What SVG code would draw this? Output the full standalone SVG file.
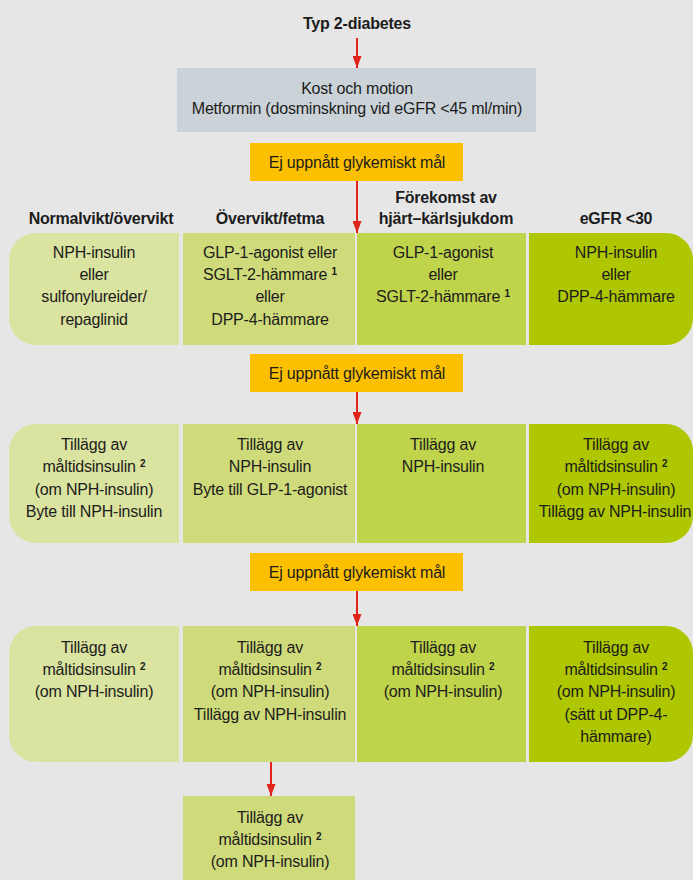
<svg xmlns="http://www.w3.org/2000/svg" width="693" height="880" viewBox="0 0 693 880">
<defs>
<style>
text{font-family:"Liberation Sans",Arial,sans-serif;font-size:16px;letter-spacing:-0.2px;fill:#1c1c1c;text-anchor:middle}
.b{font-weight:bold}
.sup{font-size:10px;font-weight:bold;letter-spacing:0}
.gray{fill:#cbd3d9}
.yel{fill:#fdc000}
.c1{fill:#dae39f}
.c2{fill:#cfdb7a}
.c3{fill:#bfd34b}
.c4{fill:#aec700}
.arr{stroke:#e0231b;stroke-width:2;fill:none;marker-end:url(#ah)}
</style>
<marker id="ah" viewBox="0 0 12 9" refX="12" refY="4.5" markerWidth="12" markerHeight="9" markerUnits="userSpaceOnUse" orient="auto">
<path d="M0,0 L12,4.5 L0,9 Z" fill="#e0231b"/>
</marker>
</defs>
<rect x="0" y="0" width="693" height="880" fill="#e6e6e6"/>

<g id="start">
<text class="b" x="357" y="29">Typ 2-diabetes</text>
</g>

<g id="base">
<rect class="gray" x="177" y="68" width="359" height="64"/>
<text x="357" y="94">Kost och motion</text>
<text x="357" y="114">Metformin (dosminskning vid eGFR &lt;45 ml/min)</text>
</g>

<g id="fail1">
<rect class="yel" x="250" y="143" width="213" height="38"/>
<text x="357" y="168">Ej uppnått glykemiskt mål</text>
</g>

<g id="headers">
<text class="b" x="101" y="224">Normalvikt/övervikt</text>
<text class="b" x="270" y="224">Övervikt/fetma</text>
<text class="b" x="446" y="203">Förekomst av</text>
<text class="b" x="446" y="224">hjärt–kärlsjukdom</text>
<text class="b" x="616" y="224">eGFR &lt;30</text>
</g>

<g id="r1c1">
<path class="c1" d="M179,233 V345 H36 A27,27 0 0 1 9,318 V260 A27,27 0 0 1 36,233 Z"/>
<text x="94" y="258">NPH-insulin</text>
<text x="94" y="280">eller</text>
<text x="94" y="302">sulfonylureider/</text>
<text x="94" y="325">repaglinid</text>
</g>
<g id="r1c2">
<rect class="c2" x="183" y="233" width="172" height="112"/>
<text x="270" y="258">GLP-1-agonist eller</text>
<text x="270" y="280">SGLT-2-hämmare <tspan class="sup" dy="-5">1</tspan></text>
<text x="270" y="302">eller</text>
<text x="270" y="325">DPP-4-hämmare</text>
</g>
<g id="r1c3">
<rect class="c3" x="357" y="233" width="169" height="112"/>
<text x="443" y="258">GLP-1-agonist</text>
<text x="443" y="280">eller</text>
<text x="443" y="302">SGLT-2-hämmare <tspan class="sup" dy="-5">1</tspan></text>
</g>
<g id="r1c4">
<path class="c4" d="M529,233 H666 A27,27 0 0 1 693,260 V318 A27,27 0 0 1 666,345 H529 Z"/>
<text x="616" y="258">NPH-insulin</text>
<text x="616" y="280">eller</text>
<text x="616" y="302">DPP-4-hämmare</text>
</g>

<g id="fail2">
<rect class="yel" x="250" y="354" width="213" height="38"/>
<text x="357" y="379">Ej uppnått glykemiskt mål</text>
</g>

<g id="r2c1">
<path class="c1" d="M179,424 V543 H36 A27,27 0 0 1 9,516 V451 A27,27 0 0 1 36,424 Z"/>
<text x="94" y="450">Tillägg av</text>
<text x="94" y="472">måltidsinsulin <tspan class="sup" dy="-5">2</tspan></text>
<text x="94" y="495">(om NPH-insulin)</text>
<text x="94" y="517">Byte till NPH-insulin</text>
</g>
<g id="r2c2">
<rect class="c2" x="183" y="424" width="172" height="119"/>
<text x="270" y="450">Tillägg av</text>
<text x="270" y="472">NPH-insulin</text>
<text x="270" y="495">Byte till GLP-1-agonist</text>
</g>
<g id="r2c3">
<rect class="c3" x="357" y="424" width="169" height="119"/>
<text x="443" y="450">Tillägg av</text>
<text x="443" y="472">NPH-insulin</text>
</g>
<g id="r2c4">
<path class="c4" d="M529,424 H666 A27,27 0 0 1 693,451 V516 A27,27 0 0 1 666,543 H529 Z"/>
<text x="616" y="450">Tillägg av</text>
<text x="616" y="472">måltidsinsulin <tspan class="sup" dy="-5">2</tspan></text>
<text x="616" y="495">(om NPH-insulin)</text>
<text x="615" y="517">Tillägg av NPH-insulin</text>
</g>

<g id="fail3">
<rect class="yel" x="250" y="553" width="213" height="38"/>
<text x="357" y="578">Ej uppnått glykemiskt mål</text>
</g>

<g id="r3c1">
<path class="c1" d="M179,626 V762 H36 A27,27 0 0 1 9,735 V653 A27,27 0 0 1 36,626 Z"/>
<text x="94" y="653">Tillägg av</text>
<text x="94" y="675">måltidsinsulin <tspan class="sup" dy="-5">2</tspan></text>
<text x="94" y="697">(om NPH-insulin)</text>
</g>
<g id="r3c2">
<rect class="c2" x="183" y="626" width="172" height="136"/>
<text x="270" y="653">Tillägg av</text>
<text x="270" y="675">måltidsinsulin <tspan class="sup" dy="-5">2</tspan></text>
<text x="270" y="697">(om NPH-insulin)</text>
<text x="270" y="720">Tillägg av NPH-insulin</text>
</g>
<g id="r3c3">
<rect class="c3" x="357" y="626" width="169" height="136"/>
<text x="443" y="653">Tillägg av</text>
<text x="443" y="675">måltidsinsulin <tspan class="sup" dy="-5">2</tspan></text>
<text x="443" y="697">(om NPH-insulin)</text>
</g>
<g id="r3c4">
<path class="c4" d="M529,626 H666 A27,27 0 0 1 693,653 V735 A27,27 0 0 1 666,762 H529 Z"/>
<text x="616" y="653">Tillägg av</text>
<text x="616" y="675">måltidsinsulin <tspan class="sup" dy="-5">2</tspan></text>
<text x="616" y="697">(om NPH-insulin)</text>
<text x="616" y="720">(sätt ut DPP-4-</text>
<text x="616" y="742">hämmare)</text>
</g>

<g id="final">
<rect class="c2" x="183" y="796" width="172" height="90"/>
<text x="270" y="823">Tillägg av</text>
<text x="270" y="845">måltidsinsulin <tspan class="sup" dy="-5">2</tspan></text>
<text x="270" y="867">(om NPH-insulin)</text>
</g>

<g id="connectors">
<line class="arr" x1="357" y1="38" x2="357" y2="68"/>
<line class="arr" x1="357" y1="181" x2="357" y2="233"/>
<line class="arr" x1="357" y1="392" x2="357" y2="424"/>
<line class="arr" x1="357" y1="591" x2="357" y2="626"/>
<line class="arr" x1="271" y1="762" x2="271" y2="796"/>
</g>
</svg>
